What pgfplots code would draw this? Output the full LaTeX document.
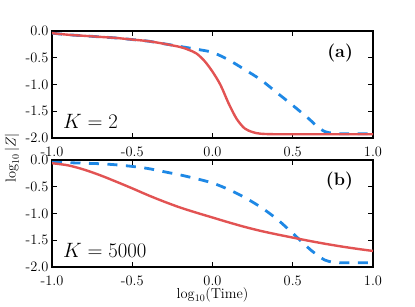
\documentclass[border=0pt]{standalone}
\usepackage{pgfplots}
\pgfplotsset{compat=1.18}
\definecolor{myred}{RGB}{226,83,83}
\definecolor{myblue}{RGB}{30,136,229}
\begin{document}
\begin{tikzpicture}
\pgfplotsset{
  myaxis/.style={
    scale only axis, width=321pt, height=107pt,
    anchor=south west,
    xmin=-1, xmax=1, ymin=-2, ymax=0,
    xtick={-1,-0.5,0,0.5,1},
    xticklabels={-1.0,-0.5,0.0,0.5,1.0},
    ytick={-2,-1.5,-1,-0.5,0},
    yticklabels={-2.0,-1.5,-1.0,-0.5,0.0},
    tick align=inside,
    major tick length=5pt,
    tick style={black, line width=0.9pt},
    axis line style={line width=1.8pt},
    tick label style={font=\Large},
    xticklabel style={yshift=-5pt},
    clip=true,
  },
  redline/.style={myred, line width=2.4pt, no marks, smooth},
  blueline/.style={myblue, line width=2.8pt, no marks, dash pattern=on 10pt off 8.5pt, smooth},
}
\begin{axis}[myaxis, at={(52pt,168pt)}]
\addplot[blueline] coordinates {
(-1.0,-0.04) (-0.9,-0.07) (-0.8,-0.09) (-0.7,-0.11) (-0.6,-0.13) (-0.5,-0.16)
(-0.4,-0.19) (-0.3,-0.24) (-0.2,-0.29) (-0.1,-0.34) (0.0,-0.40) (0.1,-0.54)
(0.2,-0.72) (0.3,-0.91) (0.4,-1.15) (0.5,-1.39) (0.6,-1.64) (0.65,-1.78)
(0.7,-1.88) (0.75,-1.91) (0.8,-1.92) (0.9,-1.92) (1.0,-1.92)};
\addplot[redline] coordinates {
(-1.0,-0.04) (-0.9,-0.07) (-0.8,-0.09) (-0.7,-0.11) (-0.6,-0.13) (-0.5,-0.16)
(-0.4,-0.19) (-0.3,-0.24) (-0.2,-0.30) (-0.15,-0.35) (-0.1,-0.42) (-0.05,-0.56)
(0.0,-0.76) (0.05,-1.01) (0.1,-1.35) (0.15,-1.64) (0.2,-1.82) (0.25,-1.89)
(0.3,-1.92) (0.4,-1.93) (0.6,-1.93) (0.8,-1.93) (1.0,-1.93)};
\node[anchor=base west, inner sep=0pt, font=\fontsize{19.5}{23}\selectfont] at (rel axis cs:0.034,0.09) {$K=2$};
\node[anchor=north east, inner sep=0pt, font=\fontsize{18}{21}\selectfont\bfseries] at (rel axis cs:0.938,0.88) {(a)};
\end{axis}
\begin{axis}[myaxis, at={(52pt,39pt)}]
\addplot[blueline] coordinates {
(-1.0,-0.04) (-0.9,-0.05) (-0.8,-0.06) (-0.7,-0.07) (-0.6,-0.09) (-0.5,-0.12)
(-0.4,-0.16) (-0.3,-0.22) (-0.2,-0.28) (-0.1,-0.35) (0.0,-0.43) (0.1,-0.55)
(0.2,-0.70) (0.3,-0.88) (0.4,-1.10) (0.5,-1.37) (0.6,-1.65) (0.65,-1.77)
(0.7,-1.87) (0.75,-1.91) (0.8,-1.92) (0.9,-1.92) (1.0,-1.92)};
\addplot[redline] coordinates {
(-1.0,-0.06) (-0.9,-0.10) (-0.8,-0.18) (-0.7,-0.285) (-0.6,-0.405) (-0.5,-0.53)
(-0.4,-0.66) (-0.3,-0.78) (-0.2,-0.89) (-0.1,-0.985) (0.0,-1.075) (0.1,-1.165)
(0.2,-1.25) (0.3,-1.325) (0.4,-1.39) (0.5,-1.45) (0.6,-1.51) (0.7,-1.565)
(0.8,-1.615) (0.9,-1.66) (1.0,-1.70)};
\node[anchor=base west, inner sep=0pt, font=\fontsize{19.5}{23}\selectfont] at (rel axis cs:0.034,0.093) {$K=5000$};
\node[anchor=north east, inner sep=0pt, font=\fontsize{18}{21}\selectfont\bfseries] at (rel axis cs:0.938,0.89) {(b)};
\end{axis}
\node[rotate=90, font=\Large] at (12pt,148pt) {$\log_{10}|Z|$};
\node[font=\Large, anchor=base, inner sep=0pt] at (212.5pt,7.5pt) {$\log_{10}$(Time)};
\path (0pt,0pt) rectangle (415pt,306pt);
\end{tikzpicture}
\end{document}
